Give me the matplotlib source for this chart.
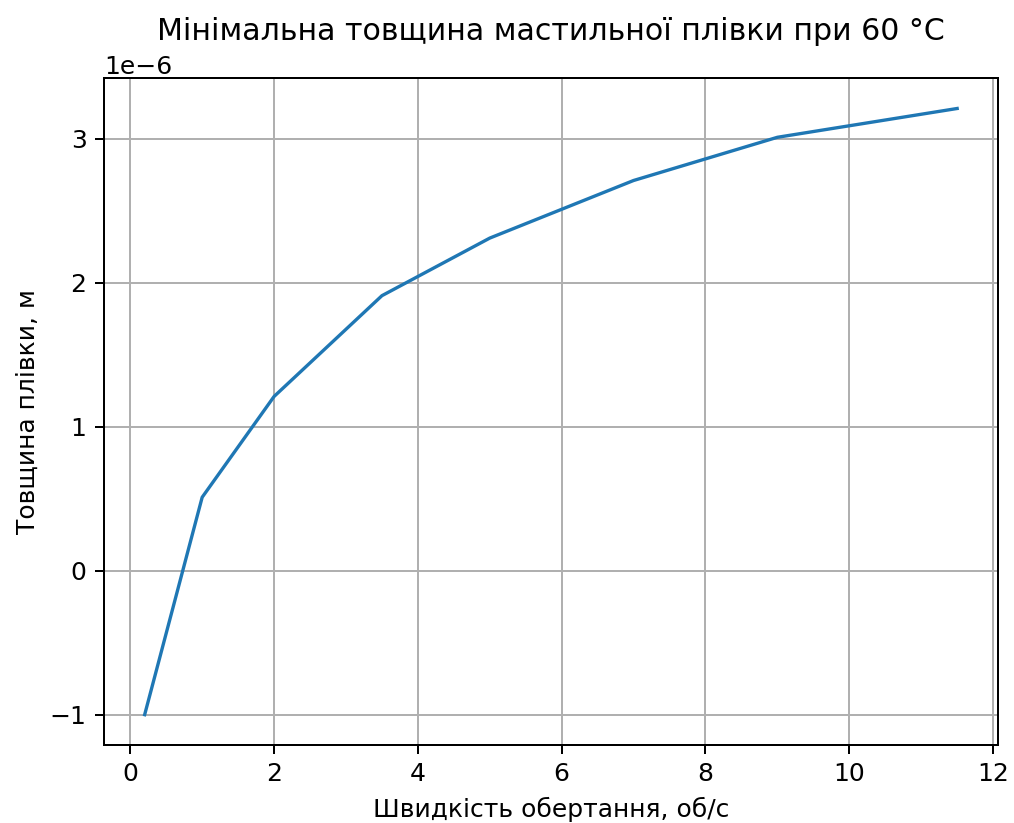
import matplotlib
matplotlib.use("Agg")
import matplotlib.pyplot as plt

# Швидкість обертання, об/с
speed = [0.2, 1.0, 2.0, 3.5, 5.0, 7.0, 9.0, 11.5]
# Мінімальна товщина плівки, м
thickness = [-1.0e-6, 0.51e-6, 1.21e-6, 1.91e-6, 2.31e-6, 2.71e-6, 3.01e-6, 3.21e-6]

S = 1.8  # the source figure looks like default styling rendered at a higher dpi

plt.rcParams.update({
    "font.size": 10 * S,
    "axes.linewidth": 0.8 * S,
    "xtick.major.width": 0.8 * S,
    "ytick.major.width": 0.8 * S,
    "xtick.major.size": 3.5 * S,
    "ytick.major.size": 3.5 * S,
    "xtick.major.pad": 3.5 * S,
    "ytick.major.pad": 3.5 * S,
    "grid.linewidth": 0.8 * S,
})

fig = plt.figure(figsize=(10.14, 8.23), dpi=100)
ax = fig.add_axes([0.1026, 0.0948, 0.8814, 0.8102])

ax.plot(speed, thickness, color="#1f77b4", linewidth=2.4)
ax.set_title("Мінімальна товщина мастильної плівки при 60 °C", fontsize=12 * S, pad=6 * S)
ax.set_xlabel("Швидкість обертання, об/с", labelpad=4 * S)
ax.set_ylabel("Товщина плівки, м", labelpad=4 * S)
ax.grid(True)

fig.savefig("out.png", dpi=100)
